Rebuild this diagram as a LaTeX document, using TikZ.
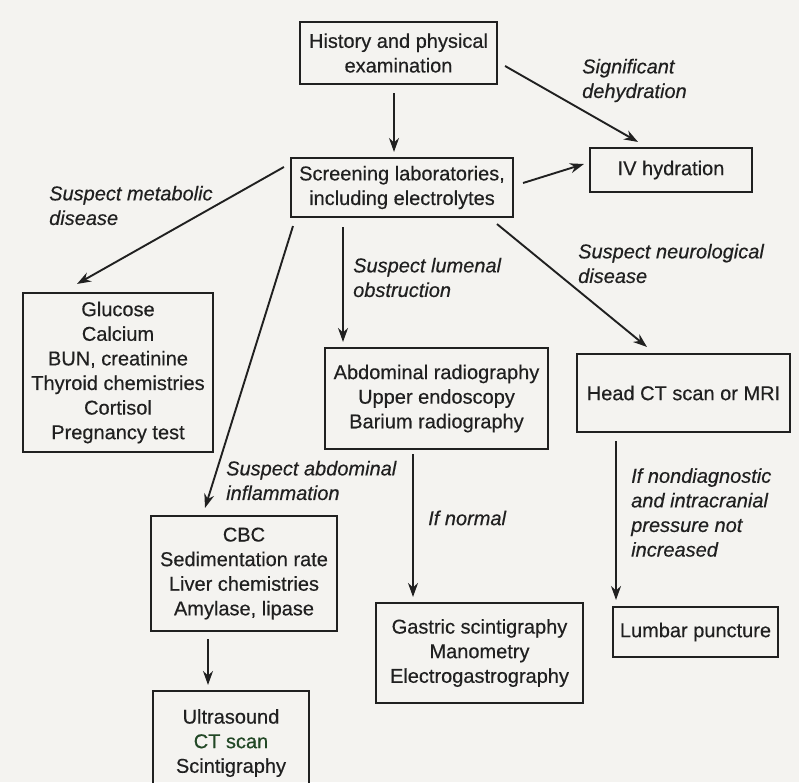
\documentclass[tikz,border=0pt]{standalone}
\usepackage{fontspec}
\setmainfont{Liberation Sans}[FakeBold=0.4,
  UprightFeatures={FakeBold=0.4}, ItalicFeatures={FakeBold=0.4}]
\usetikzlibrary{calc,arrows.meta}
\definecolor{ink}{RGB}{32,32,32}
\definecolor{paper}{RGB}{244,243,240}
\definecolor{ctgreen}{RGB}{34,72,38}
\begin{document}
\begin{tikzpicture}[x=1pt,y=-1pt,
  font=\fontsize{20}{24.6}\selectfont,
  box/.style={draw=ink, line width=2.1pt, text=ink, align=center, inner sep=0pt},
  note/.style={text=ink, font=\fontsize{20}{24.6}\selectfont\itshape, align=left, inner sep=0pt, anchor=west},
  arr/.style={draw=ink, line width=1.9pt, -{Stealth[length=14pt,width=10pt]}}]
  \useasboundingbox (0,0) rectangle (799,782);
  \clip (0,0) rectangle (799,782);
  \fill[paper] (0,0) rectangle (799,782);

  % boxes
  \node[box, minimum width=197, minimum height=62] (hist) at (398.5,53) {History and physical\\examination};
  \node[box, minimum width=222, minimum height=59] (screen) at (402,187.5) {Screening laboratories,\\including electrolytes};
  \node[box, minimum width=162, minimum height=44] (iv) at (671,170) {IV hydration};
  \node[box, minimum width=190, minimum height=159] (gluc) at (118,372.5) {Glucose\\Calcium\\BUN, creatinine\\Thyroid chemistries\\Cortisol\\Pregnancy test};
  \node[box, minimum width=223, minimum height=101] (abd) at (436.5,398.5) {Abdominal radiography\\Upper endoscopy\\Barium radiography};
  \node[box, minimum width=213, minimum height=78] (head) at (683.5,393) {Head CT scan or MRI};
  \node[box, minimum width=186, minimum height=115] (cbc) at (244,573.5) {CBC\\Sedimentation rate\\Liver chemistries\\Amylase, lipase};
  \node[box, minimum width=156, minimum height=104] (ultra) at (231,743) {Ultrasound\\\textcolor{ctgreen}{CT scan}\\Scintigraphy};
  \node[box, minimum width=207, minimum height=100] (gast) at (479.5,653) {Gastric scintigraphy\\Manometry\\Electrogastrography};
  \node[box, minimum width=165, minimum height=50] (lumb) at (695.5,632) {Lumbar puncture};

  % connectors
  \draw[arr] ($(hist.south)+(-4.5,8)$) -- ($(screen.north)+(-8,-5)$);
  \draw[arr] ($(hist.east)+(7,13)$) -- ($(iv.north)+(-33,-5)$);
  \draw[arr] ($(screen.east)+(9,-4.5)$) -- ($(iv.west)+(-5,-6)$);
  \draw[arr] ($(screen.west)+(-6,-20.5)$) -- ($(gluc.north)+(-41,-8)$);
  \draw[arr] ($(screen.south)+(-109,8)$) -- ($(cbc.north)+(-39,-7)$);
  \draw[arr] ($(screen.south)+(-59,9)$) -- ($(abd.north)+(-93.5,-5)$);
  \draw[arr] ($(screen.south)+(95,6)$) -- ($(head.north)+(-36.5,-6)$);
  \draw[arr] ($(abd.south)+(-23.5,4)$) -- ($(gast.north)+(-66.5,-5)$);
  \draw[arr] ($(cbc.south)+(-36,7)$) -- ($(ultra.north)+(-23,-5)$);
  \draw[arr] ($(head.south)+(-67.5,8)$) -- ($(lumb.north)+(-79.5,-6)$);

  % branch conditions
  \node[note] (lsig) at (582,80.5) {Significant\\dehydration};
  \node[note] (lmeta) at (49,205.5) {Suspect metabolic\\disease};
  \node[note] (llum) at (353,277.5) {Suspect lumenal\\obstruction};
  \node[note] (lneuro) at (578,263.5) {Suspect neurological\\disease};
  \node[note] (linf) at (226,480.5) {Suspect abdominal\\inflammation};
  \node[note] (lnorm) at (428,518) {If normal};
  \node[note] (lnond) at (631,512.5) {If nondiagnostic\\and intracranial\\pressure not\\increased};
\end{tikzpicture}
\end{document}
